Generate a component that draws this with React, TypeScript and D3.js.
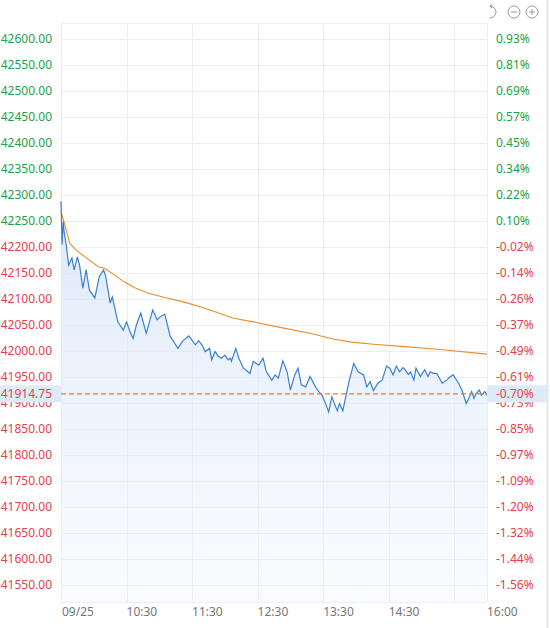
import * as d3 from "d3";
import { useEffect, useRef } from "react";

// minutes after 09:30 and index price
const priceMinutes = [
  0, 1, 2, 3, 5, 7, 10, 12, 15, 17, 20, 23, 26, 31, 35, 39, 41, 45, 47, 52, 57, 60, 63, 66, 69, 73, 78, 84,
  88, 91, 95, 100, 104, 107, 111, 117, 123, 126, 129, 132, 136, 138, 141, 144, 147, 150, 153, 155, 156, 160,
  163, 167, 170, 173, 176, 181, 185, 188, 193, 196, 199, 203, 207, 210, 214, 217, 220, 224, 228, 233, 236,
  239, 242, 245, 248, 251, 253, 255, 258, 261, 264, 268, 272, 277, 280, 283, 286, 290, 294, 298, 301, 304,
  307, 310, 313, 315, 318, 320, 323, 325, 329, 333, 336, 338, 341, 344, 349, 353, 356, 359, 364, 367, 371,
  374, 376, 378, 380, 383, 385, 388, 390,
];
const priceValues = [
  42288, 42205, 42249, 42227, 42201, 42165, 42179, 42156, 42181, 42165, 42121, 42156, 42117, 42102, 42143,
  42156, 42143, 42092, 42104, 42056, 42040, 42056, 42038, 42024, 42050, 42073, 42034, 42079, 42060, 42066,
  42071, 42028, 42015, 42005, 42018, 42029, 42012, 42020, 42012, 41999, 42005, 41983, 41999, 41990, 41986,
  41992, 41983, 41986, 41980, 42005, 41985, 41967, 41962, 41957, 41980, 41973, 41986, 41960, 41944, 41954,
  41948, 41981, 41960, 41925, 41954, 41967, 41935, 41931, 41951, 41931, 41922, 41915, 41900, 41883, 41912,
  41895, 41885, 41899, 41885, 41915, 41944, 41976, 41960, 41954, 41931, 41941, 41924, 41938, 41944, 41971,
  41967, 41954, 41971, 41960, 41968, 41964, 41955, 41960, 41944, 41967, 41951, 41964, 41951, 41960, 41957,
  41957, 41938, 41944, 41950, 41954, 41938, 41925, 41899, 41912, 41922, 41909, 41918, 41925, 41915, 41922,
  41914.75,
];

// average price line
const avgMinutes = [0, 4, 8, 14, 22, 34, 40, 49, 58, 68, 80, 95, 111, 129, 143, 158, 181, 204, 228, 249, 266, 286, 317, 347, 390];
const avgValues = [
  42268, 42239, 42207, 42194, 42181, 42162, 42159, 42146, 42133, 42121, 42111, 42103, 42095, 42084, 42074,
  42063, 42054, 42044, 42034, 42023, 42017, 42013, 42008, 42003, 41994,
];

const preClose = 42208.22;
const lastPrice = 41914.75;
const priceTicks = d3.range(42600, 41549, -50);
const timeTicks = [0, 60, 120, 180, 240, 300, 360, 390];
const timeLabels = ["09/25", "10:30", "11:30", "12:30", "13:30", "14:30", "", "16:00"];

const App = () => {
  const svgRef = useRef<SVGSVGElement>(null);
  useEffect(() => {
    if (!svgRef.current) return;
    const svg = d3.select(svgRef.current);
    svg.selectAll("*").remove();
    const width = 550;
    const height = 628;
    const left = 61;
    const right = 487;
    const top = 23;
    const bottom = 602;
    const green = "#1aa34a";
    const red = "#e8404a";
    const font = "'Noto Sans', 'DejaVu Sans', sans-serif";

    const x = d3.scaleLinear().domain([0, 390]).range([left, right]);
    const y = d3.scaleLinear().domain([41550, 42600]).range([585, 39]);

    svg.attr("width", width).attr("height", height).attr("viewBox", [0, 0, width, height]);

    // right side panel border
    svg.append("line").attr("x1", 547.5).attr("x2", 547.5).attr("y1", 0).attr("y2", height)
      .attr("stroke", "#e4e6ea").attr("stroke-width", 2);

    // grid
    const grid = svg.append("g").attr("stroke", "#eceef2").attr("stroke-width", 1);
    grid.selectAll("line.h").data(priceTicks).join("line")
      .attr("x1", left).attr("x2", right)
      .attr("y1", (d) => Math.round(y(d)) + 0.5).attr("y2", (d) => Math.round(y(d)) + 0.5);
    grid.selectAll("line.v").data(timeTicks).join("line")
      .attr("x1", (d) => Math.round(x(d)) + 0.5).attr("x2", (d) => Math.round(x(d)) + 0.5)
      .attr("y1", top).attr("y2", bottom);
    grid.append("line").attr("x1", left).attr("x2", right).attr("y1", top + 0.5).attr("y2", top + 0.5);
    grid.append("line").attr("x1", left).attr("x2", right).attr("y1", bottom + 0.5).attr("y2", bottom + 0.5);

    const priceData = priceMinutes.map((t, i) => ({ t, v: priceValues[i] }));
    const avgData = avgMinutes.map((t, i) => ({ t, v: avgValues[i] }));

    // area fill
    const defs = svg.append("defs");
    const grad = defs.append("linearGradient").attr("id", "fillGrad")
      .attr("x1", 0).attr("x2", 0).attr("y1", 0).attr("y2", 1);
    grad.append("stop").attr("offset", "0%").attr("stop-color", "#d6e5f8").attr("stop-opacity", 0.85);
    grad.append("stop").attr("offset", "100%").attr("stop-color", "#e8f0fb").attr("stop-opacity", 0.25);

    const area = d3.area<{ t: number; v: number }>()
      .x((d) => x(d.t)).y0(bottom).y1((d) => y(d.v));
    svg.append("path").datum(priceData).attr("d", area).attr("fill", "url(#fillGrad)");

    const line = d3.line<{ t: number; v: number }>().x((d) => x(d.t)).y((d) => y(d.v));
    svg.append("path").datum(avgData).attr("d", line).attr("fill", "none")
      .attr("stroke", "#ef8a2c").attr("stroke-width", 1.1);
    svg.append("path").datum(priceData).attr("d", line).attr("fill", "none")
      .attr("stroke", "#3a7fd6").attr("stroke-width", 1.2);

    // left axis labels
    svg.append("g").attr("font-family", font).attr("font-size", 12).attr("text-anchor", "end")
      .selectAll("text").data(priceTicks).join("text")
      .attr("x", 52).attr("y", (d) => y(d)).attr("dy", "0.35em")
      .attr("fill", (d) => (d >= preClose ? green : red))
      .text((d) => d.toFixed(2));

    // right axis labels
    svg.append("g").attr("font-family", font).attr("font-size", 12).attr("text-anchor", "start")
      .selectAll("text").data(priceTicks).join("text")
      .attr("x", 496).attr("y", (d) => y(d)).attr("dy", "0.35em")
      .attr("fill", (d) => (d >= preClose ? green : red))
      .text((d) => (((d - preClose) / preClose) * 100).toFixed(2) + "%");

    // time labels
    svg.append("g").attr("font-family", font).attr("font-size", 12).attr("fill", "#777")
      .selectAll("text").data(timeTicks).join("text")
      .attr("x", (d) => x(d) + (d === 0 ? 1 : 0)).attr("y", 612).attr("dy", "0.35em")
      .text((d, i) => timeLabels[i]);

    // last price marker
    const yl = y(lastPrice) - 1.5;
    svg.append("line").attr("x1", left).attr("x2", right).attr("y1", yl).attr("y2", yl)
      .attr("stroke", "#f07a30").attr("stroke-width", 1.2).attr("stroke-dasharray", "5,3");
    svg.append("rect").attr("x", 0).attr("y", yl - 8.5).attr("width", left).attr("height", 17).attr("fill", "#dcebf8");
    svg.append("rect").attr("x", right).attr("y", yl - 8.5).attr("width", 60).attr("height", 17).attr("fill", "#dcebf8");
    svg.append("text").attr("x", 52).attr("y", yl).attr("dy", "0.35em").attr("text-anchor", "end")
      .attr("font-family", font).attr("font-size", 12).attr("fill", red).text(lastPrice.toFixed(2));
    svg.append("text").attr("x", 496).attr("y", yl).attr("dy", "0.35em")
      .attr("font-family", font).attr("font-size", 12).attr("fill", red)
      .text((((lastPrice - preClose) / preClose) * 100).toFixed(2) + "%");

    // toolbar icons
    const icons = svg.append("g").attr("fill", "none").attr("stroke", "#9a9a9a").attr("stroke-width", 1);
    icons.append("path").attr("d", "M490,6 A6,6 0 1,1 490,18").attr("stroke-linecap", "round");
    icons.append("path").attr("d", "M490,6 L492.5,4.5 M490,6 L492,8");
    icons.append("circle").attr("cx", 514).attr("cy", 12).attr("r", 6);
    icons.append("line").attr("x1", 511).attr("x2", 517).attr("y1", 12).attr("y2", 12);
    icons.append("circle").attr("cx", 532).attr("cy", 12).attr("r", 6);
    icons.append("line").attr("x1", 529).attr("x2", 535).attr("y1", 12).attr("y2", 12);
    icons.append("line").attr("x1", 532).attr("x2", 532).attr("y1", 9).attr("y2", 15);
  }, []);
  return (
    <svg
      ref={svgRef}
      width={550}
      height={628}
      style={{ position: "absolute", left: 0, top: 0, background: "#fff" }}
    ></svg>
  );
};

export default App;
